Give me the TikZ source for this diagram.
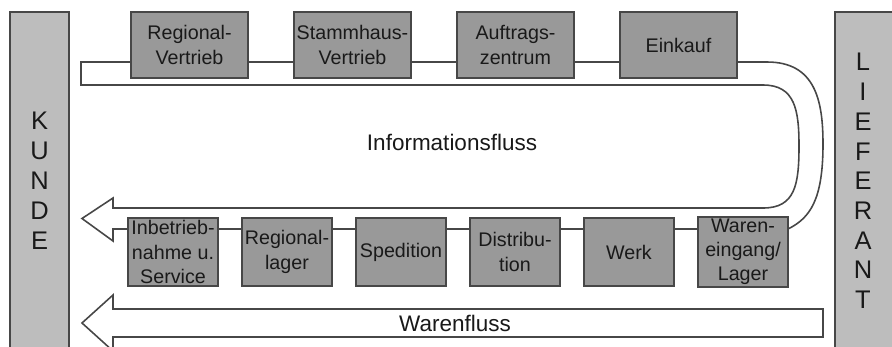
\documentclass[tikz,border=0pt]{standalone}
\usepackage{fontspec}
\setmainfont{Liberation Sans}
\definecolor{boxgray}{gray}{0.6}
\definecolor{bargray}{gray}{0.74}
\definecolor{linegray}{gray}{0.28}
\tikzset{
  rand/.style={draw=linegray,line width=0.9pt},
  stelle/.style={rand,fill=boxgray,minimum width=2.34cm,minimum height=1.32cm,
    align=center,inner sep=1pt,text=black!90,font=\fontsize{11.2}{13.8}\selectfont},
  stellelager/.style={stelle,minimum width=1.8cm,minimum height=1.36cm},
  partner/.style={align=center,inner sep=0pt,text=black!90},
  flusstext/.style={text=black!90,font=\fontsize{12.8}{14}\selectfont}
}

\begin{document}
\begin{tikzpicture}
\useasboundingbox (0,0) rectangle (17.84,-6.92);
\clip (0,0) rectangle (17.84,-6.92);
% Kunde und Lieferant
   \draw[rand,fill=bargray] (0.2,-0.24) rectangle (1.38,-7.3);
   \draw[rand,fill=bargray] (16.7,-0.24) rectangle (18.2,-7.3);
   \node[partner,font=\fontsize{14.5}{17.07}\selectfont] (kunde) at (0.79,-3.62)
   {K\\U\\N\\D\\E};
   \node[partner,font=\fontsize{14.5}{16.9}\selectfont] (lieferant) at (17.26,-3.62)
   {L\\I\\E\\F\\E\\R\\A\\N\\T};
% Informationsfluss
   \draw[rand,fill=white] (1.62,-1.24) -- (15.34,-1.24) .. controls (16.3,-1.24)
   and (16.46,-2.0) .. (16.46,-2.88) .. controls (16.46,-4.0) and (16.2,-4.36)
   .. (15.76,-4.58) -- (2.26,-4.58) -- (2.26,-4.82) -- (1.64,-4.37) -- (2.26,-3.96)
   -- (2.26,-4.16) -- (15.26,-4.16) .. controls (15.9,-4.16) and (15.98,-3.7)
   .. (15.98,-2.92) .. controls (15.98,-2.2) and (15.9,-1.7) .. (15.26,-1.7)
   -- (1.62,-1.7) -- cycle;
   \node[flusstext] (info) at (9.04,-2.84) {Informationsfluss};
% Warenfluss
   \draw[rand,fill=white] (16.46,-6.18) -- (2.26,-6.18) -- (2.26,-5.9) --
   (1.64,-6.46) -- (2.26,-7.02) -- (2.26,-6.74) -- (16.46,-6.74) -- cycle;
   \node[flusstext] (waren) at (9.1,-6.46) {Warenfluss};
% Stellen oben
   \node[stelle] (regvertrieb) at (3.79,-0.9) {Regional-\\Vertrieb};
   \node[stelle] (stammhaus) at (7.05,-0.9) {Stammhaus-\\Vertrieb};
   \node[stelle] (auftrag) at (10.31,-0.9) {Auftrags-\\zentrum};
   \node[stelle] (einkauf) at (13.57,-0.9) {Einkauf};
% Stellen unten
   \node[stellelager] (service) at (3.46,-5.04) {Inbetrieb-\\nahme u.\\Service};
   \node[stellelager] (reglager) at (5.74,-5.04) {Regional-\\lager};
   \node[stellelager] (spedition) at (8.02,-5.04) {Spedition};
   \node[stellelager] (distribution) at (10.30,-5.04) {Distribu-\\tion};
   \node[stellelager] (werk) at (12.58,-5.04) {Werk};
   \node[stellelager] (wareneingang) at (14.86,-5.04) {Waren-\\eingang/\\Lager};
\end{tikzpicture}
\end{document}
